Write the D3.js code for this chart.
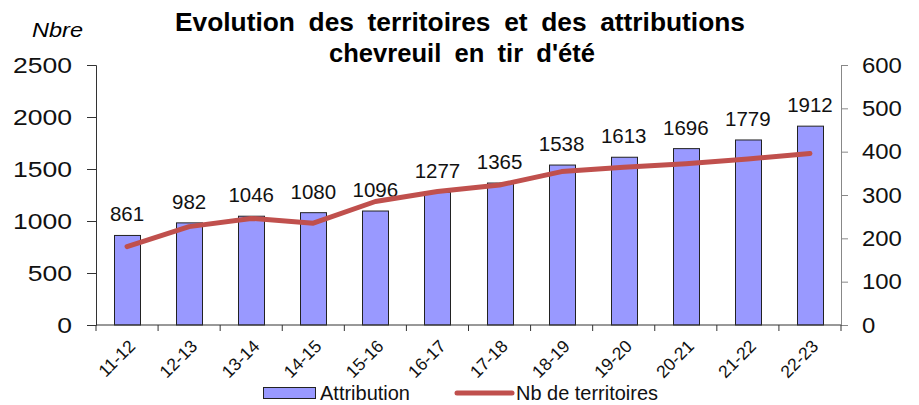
<!DOCTYPE html>
<html><head><meta charset="utf-8">
<script src="https://cdn.jsdelivr.net/npm/d3@7"></script>
<style>body{margin:0;background:#fff}svg{display:block;font-family:"Liberation Sans",Arial,sans-serif}</style>
</head><body>
<svg id="c" width="919" height="405"></svg>
<script>
const categories = ["11-12","12-13","13-14","14-15","15-16","16-17","17-18","18-19","19-20","20-21","21-22","22-23"];
const attribution = [861,982,1046,1080,1096,1277,1365,1538,1613,1696,1779,1912];
const territoires = [181,227,246,235,285,308,323,354,364,372,383,396];
const leftTicks = [0,500,1000,1500,2000,2500];
const rightTicks = [0,100,200,300,400,500,600];

const svg = d3.select("#c");
const x0 = 96, x1 = 841, yTop = 65, yBot = 325;
const x = d3.scaleBand().domain(categories).range([x0, x1]).paddingInner(0.58).paddingOuter(0.29);
const xb = d3.scaleBand().domain(categories).range([x0, x1]);
const yL = d3.scaleLinear().domain([0,2500]).range([yBot, yTop]);
const yR = d3.scaleLinear().domain([0,600]).range([yBot, yTop]);

// title
svg.append("text").attr("x",460).attr("y",31).attr("text-anchor","middle")
  .attr("font-size",25).attr("font-weight","bold").attr("fill","#000")
  .attr("word-spacing","6").attr("textLength",570).attr("lengthAdjust","spacingAndGlyphs")
  .text("Evolution des territoires et des attributions");
svg.append("text").attr("x",462).attr("y",62).attr("text-anchor","middle")
  .attr("font-size",25).attr("font-weight","bold").attr("fill","#000")
  .attr("word-spacing","6").attr("textLength",266).attr("lengthAdjust","spacingAndGlyphs")
  .text("chevreuil en tir d'été");
svg.append("text").attr("x",57.5).attr("y",37).attr("text-anchor","middle")
  .attr("font-size",20).attr("font-style","italic").attr("fill","#000")
  .attr("textLength",51).attr("lengthAdjust","spacingAndGlyphs").text("Nbre");

// bars
svg.append("g").selectAll("rect").data(categories).join("rect")
  .attr("x", d => Math.round(x(d))+0.5)
  .attr("y", (d,i) => yL(attribution[i]))
  .attr("width", Math.round(x.bandwidth()))
  .attr("height", (d,i) => yBot - yL(attribution[i]))
  .attr("fill","#9999ff").attr("stroke","#222").attr("stroke-width",1);

// data labels
svg.append("g").selectAll("text").data(categories).join("text")
  .attr("x", d => x(d) + x.bandwidth()/2)
  .attr("y", (d,i) => yL(attribution[i]) - 14)
  .attr("text-anchor","middle").attr("font-size",20.5).attr("fill","#111")
  .text((d,i) => attribution[i]);

// left axis
const gL = svg.append("g").attr("transform",`translate(${x0},0)`)
  .call(d3.axisLeft(yL).tickValues(leftTicks).tickSize(9).tickPadding(15).tickFormat(d3.format("d")));
gL.selectAll("path,line").attr("stroke","#333");
gL.selectAll("text").attr("font-size",22.5).attr("fill","#111")
  .attr("font-family","Liberation Sans, Arial, sans-serif")
  .attr("textLength", d => String(d).length*14.75).attr("lengthAdjust","spacingAndGlyphs");

// right axis
const gR = svg.append("g").attr("transform",`translate(${x1},0)`)
  .call(d3.axisRight(yR).tickValues(rightTicks).tickSize(7).tickPadding(14).tickFormat(d3.format("d")));
gR.selectAll("path,line").attr("stroke","#888");
gR.selectAll("text").attr("font-size",22.5).attr("fill","#111")
  .attr("font-family","Liberation Sans, Arial, sans-serif")
  .attr("textLength", d => String(d).length*13.3).attr("lengthAdjust","spacingAndGlyphs");

// bottom axis
const gB = svg.append("g").attr("transform",`translate(0,${yBot})`);
gB.append("line").attr("x1",x0).attr("x2",x1).attr("stroke","#333");
const edges = categories.map(d => xb(d)).concat([x1]);
gB.selectAll("line.t").data(edges).join("line").attr("class","t")
  .attr("x1",d=>d).attr("x2",d=>d).attr("y1",0).attr("y2",6).attr("stroke","#333");
gB.selectAll("text").data(categories).join("text")
  .attr("transform", d => `translate(${xb(d)+xb.bandwidth()/2+5},${18}) rotate(-45)`)
  .attr("text-anchor","end").attr("font-size",17.5).attr("fill","#111")
  .attr("dy","0.35em").text(d => d);

// line
const line = d3.line().x((d,i) => xb(categories[i]) + xb.bandwidth()/2).y(d => yR(d));
svg.append("path").datum(territoires).attr("d", line)
  .attr("fill","none").attr("stroke","#c0504d").attr("stroke-width",5)
  .attr("stroke-linecap","round").attr("stroke-linejoin","round");

// legend
const lg = svg.append("g");
lg.append("rect").attr("x",263.5).attr("y",387.5).attr("width",52).attr("height",11)
  .attr("fill","#9999ff").attr("stroke","#222");
lg.append("text").attr("x",320).attr("y",400).attr("font-size",21).attr("fill","#111")
  .attr("textLength",90).attr("lengthAdjust","spacingAndGlyphs").text("Attribution");
lg.append("line").attr("x1",457).attr("x2",512).attr("y1",393).attr("y2",393)
  .attr("stroke","#c0504d").attr("stroke-width",5).attr("stroke-linecap","round");
lg.append("text").attr("x",516).attr("y",400).attr("font-size",21).attr("fill","#111")
  .attr("textLength",142).attr("lengthAdjust","spacingAndGlyphs").text("Nb de territoires");
</script>
</body></html>
